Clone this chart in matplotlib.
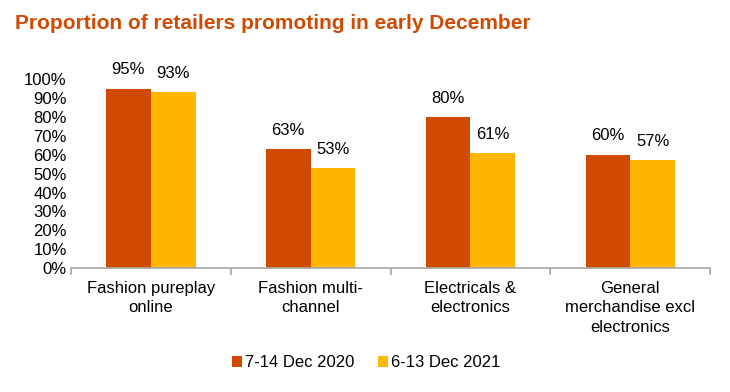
import matplotlib.pyplot as plt
import numpy as np

plt.rcParams['font.family'] = ['Liberation Sans', 'DejaVu Sans']

categories = ['Fashion pureplay\nonline', 'Fashion multi-\nchannel',
              'Electricals &\nelectronics', 'General\nmerchandise excl\nelectronics']
dec_2020 = [95, 63, 80, 60]
dec_2021 = [93, 53, 61, 57]
series_names = ['7-14 Dec 2020', '6-13 Dec 2021']

c1 = '#D04A02'
c2 = '#FFB600'

fig = plt.figure(figsize=(7.3, 3.92), dpi=100)
ax = fig.add_axes([0.097, 0.316, 0.876, 0.482])

x = np.arange(len(categories))
w = 0.28
b1 = ax.bar(x - w/2, dec_2020, w, color=c1, label=series_names[0])
b2 = ax.bar(x + w/2, dec_2021, w, color=c2, label=series_names[1])

for bars in (b1, b2):
    for b in bars:
        ax.text(b.get_x() + b.get_width()/2, b.get_height() + 6, '%d%%' % b.get_height(),
                ha='center', va='bottom', fontsize=12, color='#000000')

ax.set_xlim(-0.5, len(categories) - 0.5)
ax.set_ylim(0, 100)
ax.set_yticks(np.arange(0, 101, 10))
ax.set_yticklabels(['%d%%' % v for v in range(0, 101, 10)], fontsize=12)
ax.tick_params(axis='y', length=0, pad=3)

ax.set_xticks(x)
ax.set_xticklabels(categories, fontsize=12, linespacing=1.4)
ax.tick_params(axis='x', length=0, pad=9)
ax.set_xticks(np.arange(-0.5, len(categories), 1), minor=True)
ax.tick_params(axis='x', which='minor', length=5, color='#A6A6A6', width=1.2)

for s in ['top', 'right', 'left']:
    ax.spines[s].set_visible(False)
ax.spines['bottom'].set_color('#A6A6A6')
ax.spines['bottom'].set_linewidth(1.2)

fig.text(0.02, 0.94, 'Proportion of retailers promoting in early December',
         fontsize=15, fontweight='bold', color=c1, va='center')

fig.legend(handles=[b1, b2], loc='center', bbox_to_anchor=(0.502, 0.074), ncol=2,
           frameon=False, fontsize=12, handlelength=0.6, handleheight=0.6,
           handletextpad=0.2, columnspacing=1.4)

fig.savefig('out.png', dpi=100)
